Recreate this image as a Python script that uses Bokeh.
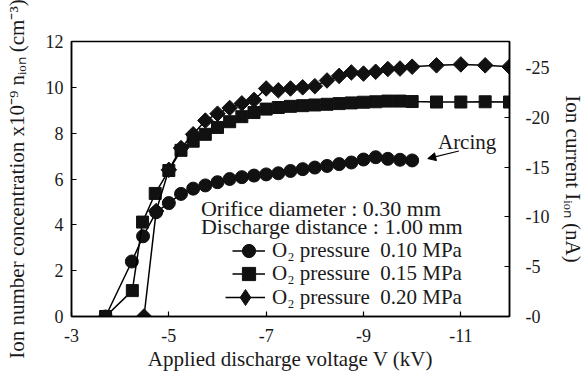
import numpy as np
from bokeh.plotting import figure
from bokeh.models import (Range1d, LinearAxis, FixedTicker, Legend, LegendItem,
                          Label, Arrow, NormalHead)
from bokeh.embed import file_html
from bokeh.resources import INLINE

# ---------------- data ----------------
x_ticks = [-3, -5, -7, -9, -11]
x_labels = ["-3", "-5", "-7", "-9", "-11"]
y_ticks = [0, 2, 4, 6, 8, 10, 12]
cur_ticks = [0, 5, 10, 15, 20, 25]
cur_labels = ["-0", "-5", "-10", "-15", "-20", "-25"]

circ_x = [-3.7, -4.24, -4.47, -4.74, -5.0, -5.25, -5.5, -5.75, -6.0, -6.25, -6.5,
          -6.75, -7.0, -7.25, -7.5, -7.75, -8.0, -8.25, -8.5, -8.75, -9.0, -9.25,
          -9.5, -9.75, -10.0]
circ_y = [0, 2.4, 3.5, 4.55, 4.95, 5.35, 5.58, 5.72, 5.86, 6.0, 6.08,
          6.15, 6.2, 6.25, 6.35, 6.43, 6.5, 6.57, 6.65, 6.72, 6.85, 6.95,
          6.88, 6.84, 6.81]

sq_x = [-3.7, -4.25, -4.46, -4.72, -5.0, -5.25, -5.5, -5.75, -6.0, -6.25, -6.5,
        -6.75, -7.0, -7.25, -7.5, -7.75, -8.0, -8.25, -8.5, -8.75, -9.0, -9.25,
        -9.5, -9.75, -10.0, -10.5, -11.0, -11.5, -12.0]
sq_y = [0, 1.13, 4.12, 5.37, 6.37, 7.25, 7.65, 7.95, 8.25, 8.5, 8.72,
        8.9, 9.05, 9.12, 9.17, 9.2, 9.23, 9.26, 9.29, 9.32, 9.35, 9.37,
        9.4, 9.4, 9.38, 9.36, 9.36, 9.37, 9.36]

dia_x = [-4.49, -4.74, -5.0, -5.25, -5.5, -5.75, -6.0, -6.25, -6.5, -6.75,
         -7.0, -7.25, -7.5, -7.75, -8.0, -8.25, -8.5, -8.75, -9.0, -9.25,
         -9.5, -9.75, -10.0, -10.5, -11.0, -11.5, -12.0]
dia_y = [0, 4.6, 6.4, 7.35, 7.95, 8.55, 8.85, 9.1, 9.3, 9.45,
         9.95, 9.87, 9.95, 10.0, 10.05, 10.3, 10.5, 10.65, 10.6, 10.68,
         10.8, 10.82, 10.9, 10.96, 11.0, 10.96, 10.9]

series_labels = ["O\u2082 pressure\u00a0 0.10 MPa",
                 "O\u2082 pressure\u00a0 0.15 MPa",
                 "O\u2082 pressure\u00a0 0.20 MPa"]
note_lines = ["Orifice diameter : 0.30 mm", "Discharge distance : 1.00 mm"]

FONT = "Liberation Serif"
TXT = "#1a1a1a"

p = figure(width=588, height=379, output_backend="svg", toolbar_location=None,
           x_range=Range1d(-3, -12), y_range=Range1d(0, 12),
           min_border_left=71, min_border_right=74, min_border_top=41,
           min_border_bottom=63, background_fill_color="white",
           border_fill_color="white")
p.extra_y_ranges = {"cur": Range1d(0, 27.6)}
p.grid.visible = False
p.outline_line_color = "black"
p.outline_line_width = 1.5

right = LinearAxis(y_range_name="cur")
p.add_layout(right, "right")

xa = p.xaxis[0]
ya = p.yaxis[0]
xa.ticker = FixedTicker(ticks=x_ticks)
xa.major_label_overrides = {t: s for t, s in zip(x_ticks, x_labels)}
ya.ticker = FixedTicker(ticks=y_ticks)
right.ticker = FixedTicker(ticks=cur_ticks)
right.major_label_overrides = {t: s for t, s in zip(cur_ticks, cur_labels)}

for ax in (xa, ya, right):
    ax.major_tick_in = 5
    ax.major_tick_out = 0
    ax.minor_tick_line_color = None
    ax.axis_line_width = 1.5
    ax.axis_line_color = "black"
    ax.major_tick_line_color = "black"
    ax.major_tick_line_width = 1.2
    ax.major_label_text_font = FONT
    ax.major_label_text_font_size = "18px"
    ax.major_label_text_color = TXT
    ax.axis_label_text_font = FONT
    ax.axis_label_text_font_size = "21px"
    ax.axis_label_text_font_style = "normal"
    ax.axis_label_text_color = TXT

xa.major_label_standoff = 12
ya.major_label_standoff = 8
right.major_label_standoff = 16

xa.axis_label = "Applied discharge voltage V (kV)"
xa.axis_label_standoff = 2
ya.axis_label = "Ion number concentration x10\u207b\u2079 n\u1d62\u2092\u2099 (cm\u207b\u00b3)"
ya.axis_label_standoff = 14
right.axis_label = "Ion current I\u1d62\u2092\u2099 (nA)"
right.axis_label_standoff = 9

# ---------------- series ----------------
l1 = p.line(circ_x, circ_y, line_color="black", line_width=1.5)
s1 = p.scatter(circ_x, circ_y, marker="circle", size=13, fill_color="#111111",
               line_color="#111111")
l2 = p.line(sq_x, sq_y, line_color="black", line_width=1.5)
s2 = p.scatter(sq_x, sq_y, marker="square", size=12, fill_color="#111111",
               line_color="#111111")
l3 = p.line(dia_x, dia_y, line_color="black", line_width=1.5)
s3 = p.scatter(dia_x, dia_y, marker="square", angle=np.pi / 4, size=11,
               fill_color="#111111", line_color="#111111")
# legend key for the diamond series (the legend ignores marker angle);
# a single undefined point, so nothing is drawn inside the frame
s3_key = p.scatter([np.nan], [np.nan], marker="diamond", size=15,
                   fill_color="#111111", line_color="#111111")

legend_rows = [([l1, s1], (161, 49), 33),
               ([l2, s2], (161, 26), 33),
               ([l3, s3_key], (154, -1), 40)]
for (rends, loc, gsize), lab in zip(legend_rows, series_labels):
    lg = Legend(items=[LegendItem(label=lab, renderers=rends)],
                location=loc, orientation="vertical",
                glyph_width=gsize, glyph_height=gsize, spacing=0,
                label_standoff=7, padding=0, margin=0,
                border_line_color=None, background_fill_alpha=0,
                label_text_font=FONT, label_text_font_size="21px",
                label_text_color=TXT, label_height=20)
    p.add_layout(lg, "center")

# ---------------- annotations ----------------
for txt, yy in zip(note_lines, [4.72, 3.93]):
    p.add_layout(Label(x=-5.66, y=yy, text=txt, text_font=FONT,
                       text_font_size="22px", text_baseline="middle",
                       text_align="left", text_color=TXT))

p.add_layout(Label(x=-10.53, y=7.61, text="Arcing", text_font=FONT,
                   text_font_size="21px", text_baseline="middle",
                   text_align="left", text_color=TXT))
p.add_layout(Arrow(x_start=-10.96, y_start=7.22, x_end=-10.32, y_end=6.89,
                   line_color="black", line_width=1.2,
                   end=NormalHead(size=8, fill_color="black", line_color="black")))

open("out.html", "w").write(file_html(p, INLINE))
